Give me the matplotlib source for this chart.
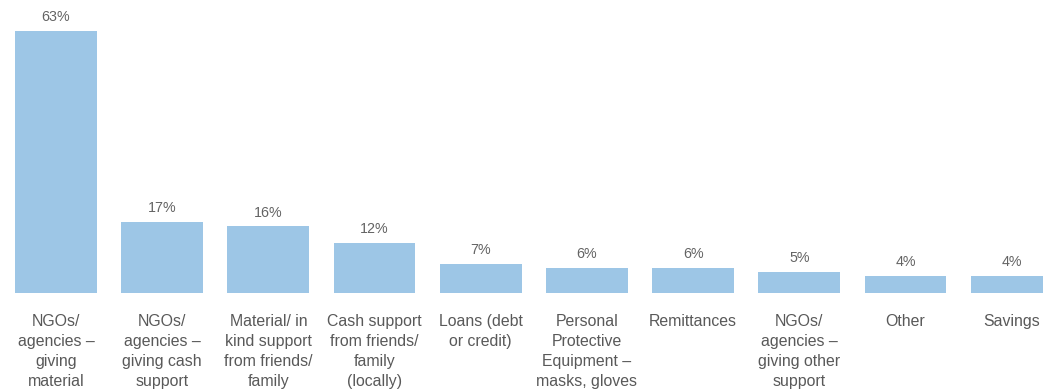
import matplotlib.pyplot as plt
import numpy as np

categories = [
    "NGOs/\nagencies –\ngiving\nmaterial",
    "NGOs/\nagencies –\ngiving cash\nsupport",
    "Material/ in\nkind support\nfrom friends/\nfamily",
    "Cash support\nfrom friends/\nfamily\n(locally)",
    "Loans (debt\nor credit)",
    "Personal\nProtective\nEquipment –\nmasks, gloves",
    "Remittances",
    "NGOs/\nagencies –\ngiving other\nsupport",
    "Other",
    "Savings",
]
values = [63, 17, 16, 12, 7, 6, 6, 5, 4, 4]

bar_color = "#9DC6E6"
text_color = "#595959"

plt.rcParams['font.family'] = ['Liberation Sans', 'DejaVu Sans']

fig = plt.figure(figsize=(10.43, 3.9), dpi=100)
ax = fig.add_axes([0, 97 / 390, 1, 293 / 390])

x = np.arange(len(values))
bars = ax.bar(x, values, width=0.77, color=bar_color)

for rect, v in zip(bars, values):
    ax.annotate(f"{v}%", (rect.get_x() + rect.get_width() / 2, v),
                xytext=(0, 5), textcoords="offset points",
                ha="center", va="bottom", fontsize=10.3, color="#636363")

ax.set_xlim(-0.527, 9.294)
ax.set_ylim(0, 70.45)
ax.set_xticks(x)
ax.set_xticklabels(categories, fontsize=11.4, color=text_color, linespacing=1.43, va="top")
ax.tick_params(axis="x", length=0, pad=15)
ax.set_yticks([])
for s in ax.spines.values():
    s.set_visible(False)

fig.savefig("out.png", dpi=100)
